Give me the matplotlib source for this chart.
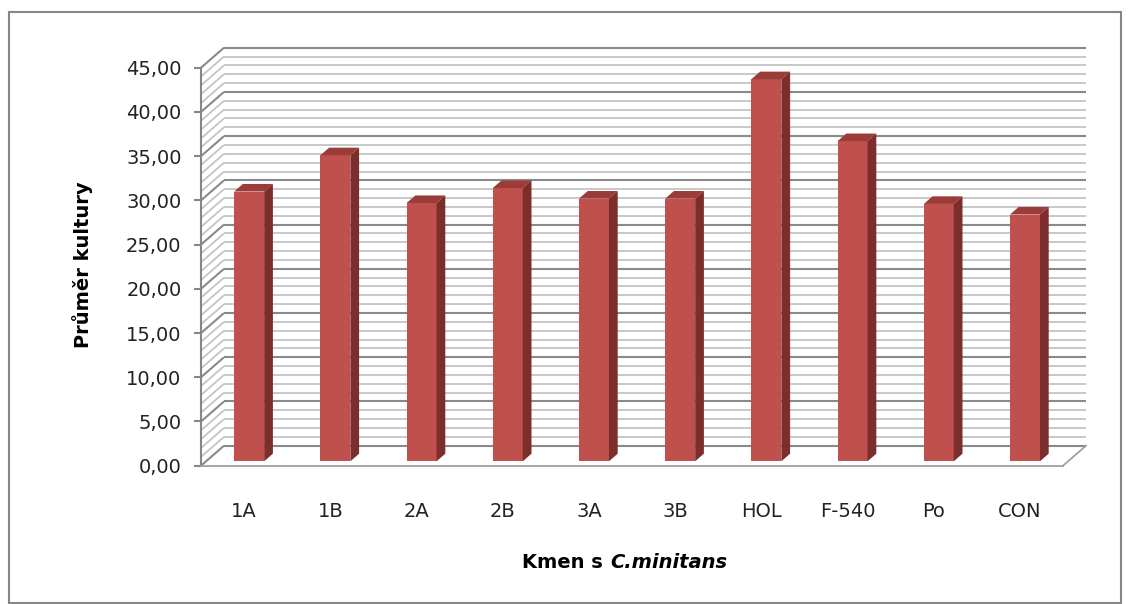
import numpy as np
import matplotlib.pyplot as plt
from matplotlib.collections import LineCollection
from matplotlib.patches import Polygon, Rectangle

# data
strains = ['1A', '1B', '2A', '2B', '3A', '3B', 'HOL', 'F-540', 'Po', 'CON']
means = [30.5, 34.6, 29.2, 30.9, 29.7, 29.7, 43.2, 36.2, 29.1, 27.9]
y_ticks = [0, 5, 10, 15, 20, 25, 30, 35, 40, 45]

W, H = 1128, 604
fig = plt.figure(figsize=(W / 100, H / 100), dpi=100)
fig.patches.append(Rectangle((9 / W, 1 - 603 / H), 1112 / W, 591 / H,
                             transform=fig.transFigure, fill=False,
                             edgecolor='#868686', lw=1.5))

# front plane of the 3D box, in pixels
left_px, right_px, zero_px, top_px = 201, 1063, 465.7, 67.7
ax = fig.add_axes([left_px / W, 1 - zero_px / H,
                   (right_px - left_px) / W, (zero_px - top_px) / H])
ax.set_xlim(-0.5, len(strains) - 0.5)
ax.set_ylim(0, 45)

# oblique depth of the walls (23 px right, 20 px up)
px_x = (right_px - left_px) / len(strains)
px_y = (zero_px - top_px) / 45
dx = 23 / px_x
dy = 20 / px_y
x0, x1 = -0.5, len(strains) - 0.5

grid_vals = np.arange(0, 46)
major = grid_vals % 5 == 0
segs, cols, lws = [], [], []
for v, m in zip(grid_vals, major):
    segs.append([(x0, v), (x0 + dx, v + dy)])
    segs.append([(x0 + dx, v + dy), (x1 + dx, v + dy)])
    c = '#8a8a8a' if m else '#c4c4c4'
    cols += [c, c]
    lws += [1.5 if m else 1.3] * 2
lc = LineCollection(segs, colors=cols, linewidths=lws, clip_on=False, zorder=1)
ax.add_collection(lc)
ax.plot([x1, x1 + dx], [0, dy], color='#a0a0a0', lw=1.3, clip_on=False, zorder=1)

# bars: front face + top + side
f0, fd = 0.22, 0.38
bw = 30 / px_x
bx = np.arange(len(strains)) + f0 * dx
by = f0 * dy
ddx, ddy = fd * dx, fd * dy
ax.bar(bx, means, width=bw, bottom=by, color='#C0504D', zorder=3,
       clip_on=False)
for xc, v in zip(bx, means):
    xl, xr = xc - bw / 2, xc + bw / 2
    yt = by + v
    top = Polygon([(xl, yt), (xr, yt), (xr + ddx, yt + ddy), (xl + ddx, yt + ddy)],
                  closed=True, facecolor='#9C3C39', edgecolor='none',
                  zorder=3, clip_on=False)
    side = Polygon([(xr, by), (xr + ddx, by + ddy), (xr + ddx, yt + ddy), (xr, yt)],
                   closed=True, facecolor='#7C2E2C', edgecolor='none',
                   zorder=3, clip_on=False)
    ax.add_patch(top)
    ax.add_patch(side)

# axes styling
for s in ['top', 'right']:
    ax.spines[s].set_visible(False)
ax.spines['left'].set_color('#868686')
ax.spines['bottom'].set_color('#a0a0a0')
ax.spines['left'].set_linewidth(1.5)
ax.spines['bottom'].set_linewidth(1.3)
ax.set_yticks(y_ticks)
ax.set_yticklabels([f'{t:.2f}'.replace('.', ',') for t in y_ticks])
ax.tick_params(axis='y', length=5, width=1.5, color='#868686', pad=9,
               labelsize=14, labelcolor='#222222')
ax.set_xticks(np.arange(len(strains)))
ax.set_xticklabels(strains)
ax.tick_params(axis='x', length=0, pad=26, labelsize=14, labelcolor='#222222')
ax.set_facecolor('none')

fig.text(83 / W, 1 - 265 / H, 'Průměr kultury', rotation=90, ha='center',
         va='center', fontsize=14, fontweight='bold')
fig.text(603 / W, 1 - 562 / H, 'Kmen s', ha='right', va='center',
         fontsize=14, fontweight='bold')
fig.text(610 / W, 1 - 562 / H, 'C.minitans', ha='left', va='center',
         fontsize=14, fontweight='bold', fontstyle='italic')

fig.savefig('out.png', dpi=100)
